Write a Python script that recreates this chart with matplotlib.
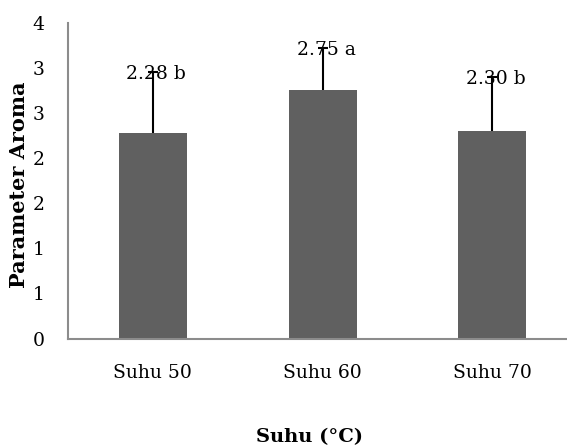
import matplotlib
matplotlib.use("Agg")
import matplotlib.pyplot as plt
from matplotlib.ticker import FixedLocator, FixedFormatter
import numpy as np

categories = ["Suhu 50", "Suhu 60", "Suhu 70"]
means = [2.28, 2.75, 2.30]
errors = [0.67, 0.47, 0.60]
labels = ["2.28 b", "2.75 a", "2.30 b"]
ytick_vals = [0, 0.5, 1, 1.5, 2, 2.5, 3, 3.5]
ytick_text = ["0", "1", "1", "2", "2", "3", "3", "4"]

plt.rcParams["font.family"] = ["DejaVu Serif"]

fig = plt.figure(figsize=(5.67, 4.46), dpi=100)
ax = fig.add_axes([68 / 567, 1 - 338.5 / 446, 1 - 68 / 567, (338.5 - 22.7) / 446])

x = np.arange(len(categories))
tops = np.array(means) + np.array(errors)
ax.bar(x, means, width=0.4, color="#606060", zorder=2)
# upper error bars only, cap at top
ax.vlines(x, means, tops, color="black", linewidth=1.5, zorder=3)
ax.plot(x, tops, linestyle="none", marker="_", markersize=7,
        markeredgewidth=1.5, color="black", zorder=3)
for xi, top, t in zip(x, tops, labels):
    ax.text(xi + 0.02, top - 0.02, t, ha="center", va="center",
            fontsize=13.5, zorder=4)

ax.set_xlim(-0.5, 2.44)
ax.set_ylim(0, 3.5)
ax.yaxis.set_major_locator(FixedLocator(ytick_vals))
ax.yaxis.set_major_formatter(FixedFormatter(ytick_text))
ax.set_xticks(x)
ax.set_xticklabels(categories)
ax.tick_params(axis="both", length=0, labelsize=13.5)
ax.tick_params(axis="y", pad=17)
ax.tick_params(axis="x", pad=18)

for s in ["top", "right"]:
    ax.spines[s].set_visible(False)
for s in ["left", "bottom"]:
    ax.spines[s].set_color("#8c8c8c")
    ax.spines[s].set_linewidth(1.5)

fig.text(19 / 567, 1 - 185 / 446, "Parameter Aroma", rotation=90, ha="center",
         va="center", fontsize=15, fontweight="bold")
fig.text(310 / 567, 1 - 437 / 446, "Suhu (°C)", ha="center", va="center",
         fontsize=14, fontweight="bold")

fig.savefig("out.png", dpi=100)
